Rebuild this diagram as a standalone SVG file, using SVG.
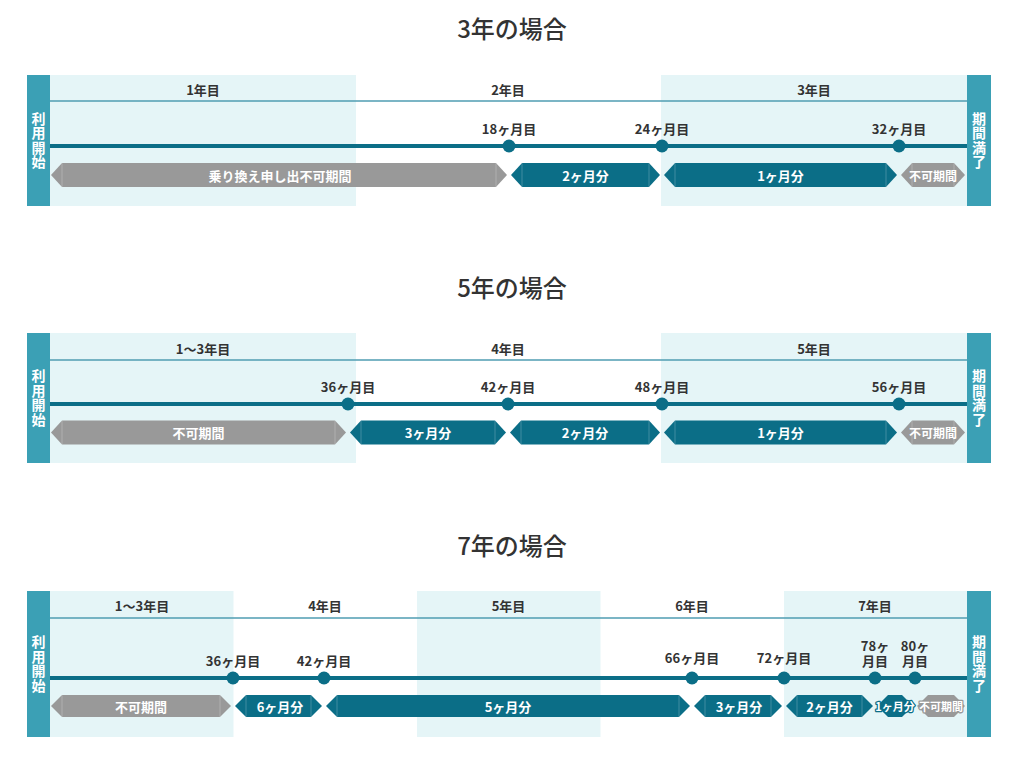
<svg xmlns="http://www.w3.org/2000/svg" width="1024" height="760" viewBox="0 0 1024 760">
<style>
text{font-family:"Noto Sans CJK JP","Noto Sans",sans-serif;dominant-baseline:central;text-anchor:middle}
.title{font-size:24px;font-weight:500;fill:#333}
.hd{font-size:13px;font-weight:700;fill:#333}
.lb{font-size:13px;font-weight:700;fill:#333}
.bx{font-size:13px;font-weight:700;fill:#fff}
.bs{font-size:12px;font-weight:700;fill:#fff}
.tiny{font-size:11px;font-weight:700;fill:#fff;paint-order:stroke;stroke-width:2.5px;stroke-linejoin:round}
.sd{font-size:14px;font-weight:700;fill:#fff;writing-mode:vertical-rl;letter-spacing:0.5px}
.side{fill:#3ba0b5}
.shade{fill:#e5f5f7}
.hline{stroke:#4f9db2;stroke-width:1.5;fill:none}
.tl{stroke:#0b6e87;stroke-width:4;fill:none}
.dot{fill:#0b6e87}
.bt{fill:#0b6e87}
.bg{fill:#999999}
.sep{stroke:#ffffff;stroke-opacity:0.22;stroke-width:1}
</style>

<!-- ===== 3年の場合 ===== -->
<g id="sec3">
<text class="title" x="512" y="27">3年の場合</text>
<g id="s3-bg">
<rect class="shade" x="50" y="75" width="306" height="131"/>
<rect class="shade" x="661" y="75" width="306" height="131"/>
<line class="hline" x1="50" y1="101" x2="967" y2="101"/>
<text class="hd" x="203" y="89">1年目</text>
<text class="hd" x="508" y="89">2年目</text>
<text class="hd" x="814" y="89">3年目</text>
</g>
<g id="s3-start"><rect class="side" x="27" y="75" width="23" height="131"/>
<text class="sd" x="38.5" y="140.5">利用開始</text></g>
<g id="s3-end"><rect class="side" x="967" y="75" width="24" height="131"/>
<text class="sd" x="979" y="140.5">期間満了</text></g>
<g id="s3-connectors"><line class="tl" x1="50" y1="146" x2="967" y2="146"/></g>
<g id="s3-m18"><circle class="dot" cx="509" cy="146" r="6.5"/><text class="lb" x="509" y="128">18ヶ月目</text></g>
<g id="s3-m24"><circle class="dot" cx="662" cy="146" r="6.5"/><text class="lb" x="662" y="128">24ヶ月目</text></g>
<g id="s3-m32"><circle class="dot" cx="899" cy="146" r="6.5"/><text class="lb" x="899" y="128">32ヶ月目</text></g>
<g id="s3-b1"><path class="bg" d="M51,175 L62,163 L496,163 L507,175 L496,187 L62,187Z"/><path class="sep" d="M62,163V187M496,163V187"/><text class="bx" x="280" y="175">乗り換え申し出不可期間</text></g>
<g id="s3-b2"><path class="bt" d="M511,175 L522,163 L649,163 L660,175 L649,187 L522,187Z"/><path class="sep" d="M522,163V187M649,163V187"/><text class="bx" x="585.5" y="175">2ヶ月分</text></g>
<g id="s3-b3"><path class="bt" d="M664,175 L675,163 L886,163 L897,175 L886,187 L675,187Z"/><path class="sep" d="M675,163V187M886,163V187"/><text class="bx" x="780.5" y="175">1ヶ月分</text></g>
<g id="s3-b4"><path class="bg" d="M901,175 L912,163 L954,163 L965,175 L954,187 L912,187Z"/><path class="sep" d="M912,163V187M954,163V187"/><text class="bs" x="933" y="175">不可期間</text></g>
</g>

<!-- ===== 5年の場合 ===== -->
<g id="sec5">
<text class="title" x="512" y="286">5年の場合</text>
<g id="s5-bg">
<rect class="shade" x="50" y="333" width="306" height="130"/>
<rect class="shade" x="661" y="333" width="306" height="130"/>
<line class="hline" x1="50" y1="360" x2="967" y2="360"/>
<text class="hd" x="203" y="348">1〜3年目</text>
<text class="hd" x="508" y="348">4年目</text>
<text class="hd" x="814" y="348">5年目</text>
</g>
<g id="s5-start"><rect class="side" x="27" y="333" width="23" height="130"/>
<text class="sd" x="38.5" y="398">利用開始</text></g>
<g id="s5-end"><rect class="side" x="967" y="333" width="24" height="130"/>
<text class="sd" x="979" y="398">期間満了</text></g>
<g id="s5-connectors"><line class="tl" x1="50" y1="404" x2="967" y2="404"/></g>
<g id="s5-m36"><circle class="dot" cx="348" cy="404" r="6.5"/><text class="lb" x="348" y="386">36ヶ月目</text></g>
<g id="s5-m42"><circle class="dot" cx="508" cy="404" r="6.5"/><text class="lb" x="508" y="386">42ヶ月目</text></g>
<g id="s5-m48"><circle class="dot" cx="662" cy="404" r="6.5"/><text class="lb" x="662" y="386">48ヶ月目</text></g>
<g id="s5-m56"><circle class="dot" cx="899" cy="404" r="6.5"/><text class="lb" x="899" y="386">56ヶ月目</text></g>
<g id="s5-b1"><path class="bg" d="M51,432.5 L62,420.5 L335,420.5 L346,432.5 L335,444.5 L62,444.5Z"/><path class="sep" d="M62,420.5V444.5M335,420.5V444.5"/><text class="bx" x="198.5" y="432.5">不可期間</text></g>
<g id="s5-b2"><path class="bt" d="M350,432.5 L361,420.5 L495,420.5 L506,432.5 L495,444.5 L361,444.5Z"/><path class="sep" d="M361,420.5V444.5M495,420.5V444.5"/><text class="bx" x="428" y="432.5">3ヶ月分</text></g>
<g id="s5-b3"><path class="bt" d="M510,432.5 L521,420.5 L649,420.5 L660,432.5 L649,444.5 L521,444.5Z"/><path class="sep" d="M521,420.5V444.5M649,420.5V444.5"/><text class="bx" x="585" y="432.5">2ヶ月分</text></g>
<g id="s5-b4"><path class="bt" d="M664,432.5 L675,420.5 L886,420.5 L897,432.5 L886,444.5 L675,444.5Z"/><path class="sep" d="M675,420.5V444.5M886,420.5V444.5"/><text class="bx" x="780.5" y="432.5">1ヶ月分</text></g>
<g id="s5-b5"><path class="bg" d="M901,432.5 L912,420.5 L954,420.5 L965,432.5 L954,444.5 L912,444.5Z"/><path class="sep" d="M912,420.5V444.5M954,420.5V444.5"/><text class="bs" x="933" y="432.5">不可期間</text></g>
</g>

<!-- ===== 7年の場合 ===== -->
<g id="sec7">
<text class="title" x="512" y="544">7年の場合</text>
<g id="s7-bg">
<rect class="shade" x="50" y="591" width="183.5" height="146"/>
<rect class="shade" x="417" y="591" width="183.5" height="146"/>
<rect class="shade" x="784" y="591" width="183" height="146"/>
<line class="hline" x1="50" y1="618" x2="967" y2="618"/>
<text class="hd" x="142" y="605">1〜3年目</text>
<text class="hd" x="325" y="605">4年目</text>
<text class="hd" x="508.5" y="605">5年目</text>
<text class="hd" x="692" y="605">6年目</text>
<text class="hd" x="875" y="605">7年目</text>
</g>
<g id="s7-start"><rect class="side" x="27" y="591" width="23" height="146"/>
<text class="sd" x="38.5" y="664">利用開始</text></g>
<g id="s7-end"><rect class="side" x="967" y="591" width="24" height="146"/>
<text class="sd" x="979" y="664">期間満了</text></g>
<g id="s7-connectors"><line class="tl" x1="50" y1="678" x2="967" y2="678"/></g>
<g id="s7-m36"><circle class="dot" cx="233" cy="678" r="6.5"/><text class="lb" x="233" y="660">36ヶ月目</text></g>
<g id="s7-m42"><circle class="dot" cx="324" cy="678" r="6.5"/><text class="lb" x="324" y="660">42ヶ月目</text></g>
<g id="s7-m66"><circle class="dot" cx="692" cy="678" r="6.5"/><text class="lb" x="692" y="657">66ヶ月目</text></g>
<g id="s7-m72"><circle class="dot" cx="784" cy="678" r="6.5"/><text class="lb" x="784" y="657">72ヶ月目</text></g>
<g id="s7-m78"><circle class="dot" cx="875" cy="678" r="6.5"/><text class="lb" x="875" y="645">78ヶ<tspan x="875" dy="15">月目</tspan></text></g>
<g id="s7-m80"><circle class="dot" cx="915" cy="678" r="6.5"/><text class="lb" x="915" y="645">80ヶ<tspan x="915" dy="15">月目</tspan></text></g>
<g id="s7-b1"><path class="bg" d="M51,706 L62,695 L220,695 L231,706 L220,717 L62,717Z"/><path class="sep" d="M62,695V717M220,695V717"/><text class="bx" x="141" y="706">不可期間</text></g>
<g id="s7-b2"><path class="bt" d="M235,706 L246,695 L311,695 L322,706 L311,717 L246,717Z"/><path class="sep" d="M246,695V717M311,695V717"/><text class="bx" x="280" y="706">6ヶ月分</text></g>
<g id="s7-b3"><path class="bt" d="M326,706 L337,695 L679,695 L690,706 L679,717 L337,717Z"/><path class="sep" d="M337,695V717M679,695V717"/><text class="bx" x="508" y="706">5ヶ月分</text></g>
<g id="s7-b4"><path class="bt" d="M694,706 L705,695 L771,695 L782,706 L771,717 L705,717Z"/><path class="sep" d="M705,695V717M771,695V717"/><text class="bx" x="739" y="706">3ヶ月分</text></g>
<g id="s7-b5"><path class="bt" d="M786,706 L797,695 L862,695 L873,706 L862,717 L797,717Z"/><path class="sep" d="M797,695V717M862,695V717"/><text class="bx" x="829.5" y="706">2ヶ月分</text></g>
<g id="s7-b6"><path class="bt" d="M877,706 L888,695 L902,695 L913,706 L902,717 L888,717Z"/><text class="tiny" x="895" y="706" stroke="#0b6e87">1ヶ月分</text></g>
<g id="s7-b7"><path class="bg" d="M917,706 L928,695 L954,695 L965,706 L954,717 L928,717Z"/><text class="tiny" x="941" y="706" stroke="#999999">不可期間</text></g>
</g>
</svg>
